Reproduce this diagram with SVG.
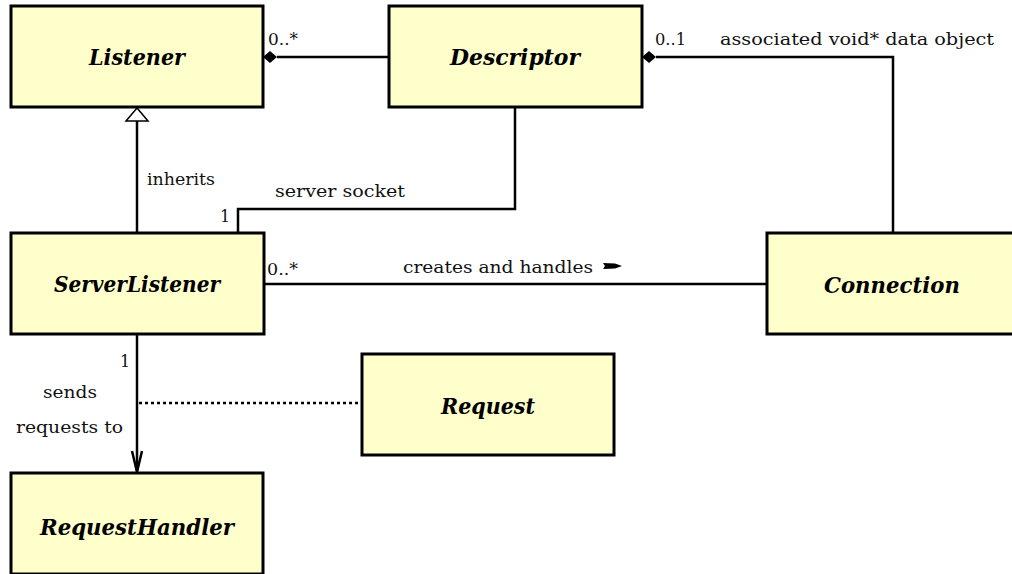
<svg xmlns="http://www.w3.org/2000/svg" width="1012" height="574" viewBox="0 0 1012 574">
  <style>
    .box { fill: #FFFFCC; stroke: #000; stroke-width: 3; }
    .name { font-family: "DejaVu Serif", "Liberation Serif", serif; font-size: 22px; font-weight: bold; font-style: italic; text-anchor: middle; fill: #000; }
    .lbl { font-family: "DejaVu Serif", "Liberation Serif", serif; font-size: 16px; fill: #111; }
    .edge { fill: none; stroke: #000; stroke-width: 2.5; }
    .dot { fill: none; stroke: #000; stroke-width: 2.5; stroke-dasharray: 3 3; }
  </style>
  <rect width="1012" height="574" fill="#fff"/>

  <g id="connectors">
    <!-- Listener composes Descriptor -->
    <path class="edge" d="M277,57 H389"/>
    <polygon points="263,57 270,51 277,57 270,63" fill="#000"/>
    <!-- ServerListener inherits Listener -->
    <path class="edge" d="M137,233 V121"/>
    <polygon points="137,108 126,121 148,121" fill="#fff" stroke="#000" stroke-width="1.5"/>
    <!-- server socket -->
    <path class="edge" d="M238,233 V209 H515 V107"/>
    <!-- Descriptor data object -->
    <path class="edge" d="M656,57 H893 V233"/>
    <polygon points="642,57 649,51 656,57 649,63" fill="#000"/>
    <!-- creates and handles -->
    <path class="edge" d="M264,284 H767"/>
    <polygon points="603,263 615,263.5 622,266 615,268.5 603,269 605,266" fill="#000"/>
    <!-- sends requests to -->
    <path class="edge" d="M137,334 V471"/>
    <path class="edge" d="M132,451 L137,472 L142,451"/>
    <!-- association class link -->
    <path class="dot" d="M139,403 H362"/>

    <text class="lbl" x="268" y="45" textLength="30" lengthAdjust="spacingAndGlyphs">0..*</text>
    <text class="lbl" x="147" y="185" textLength="68" lengthAdjust="spacingAndGlyphs">inherits</text>
    <text class="lbl" x="275" y="197" textLength="130" lengthAdjust="spacingAndGlyphs">server socket</text>
    <text class="lbl" x="220" y="222">1</text>
    <text class="lbl" x="655" y="45" textLength="31" lengthAdjust="spacingAndGlyphs">0..1</text>
    <text class="lbl" x="720" y="45" textLength="274" lengthAdjust="spacingAndGlyphs">associated void* data object</text>
    <text class="lbl" x="403" y="273" textLength="190" lengthAdjust="spacingAndGlyphs">creates and handles</text>
    <text class="lbl" x="267" y="275" textLength="31" lengthAdjust="spacingAndGlyphs">0..*</text>
    <text class="lbl" x="120" y="367">1</text>
    <text class="lbl" x="43" y="398" textLength="54" lengthAdjust="spacingAndGlyphs">sends</text>
    <text class="lbl" x="16" y="433" textLength="107" lengthAdjust="spacingAndGlyphs">requests to</text>
  </g>

  <g id="listener">
    <rect class="box" x="11" y="6" width="252" height="101"/>
    <text class="name" x="137" y="65" textLength="96" lengthAdjust="spacingAndGlyphs">Listener</text>
  </g>
  <g id="descriptor">
    <rect class="box" x="389" y="6" width="253" height="101"/>
    <text class="name" x="515" y="65" textLength="130" lengthAdjust="spacingAndGlyphs">Descriptor</text>
  </g>
  <g id="server-listener">
    <rect class="box" x="11" y="233" width="253" height="101"/>
    <text class="name" x="137" y="292" textLength="166" lengthAdjust="spacingAndGlyphs">ServerListener</text>
  </g>
  <g id="connection">
    <rect class="box" x="767" y="233" width="250" height="101"/>
    <text class="name" x="892" y="293" textLength="136" lengthAdjust="spacingAndGlyphs">Connection</text>
  </g>
  <g id="request">
    <rect class="box" x="362" y="354" width="252" height="101"/>
    <text class="name" x="488" y="414" textLength="94" lengthAdjust="spacingAndGlyphs">Request</text>
  </g>
  <g id="request-handler">
    <rect class="box" x="11" y="473" width="252" height="101"/>
    <text class="name" x="137" y="535" textLength="194" lengthAdjust="spacingAndGlyphs">RequestHandler</text>
  </g>
</svg>
